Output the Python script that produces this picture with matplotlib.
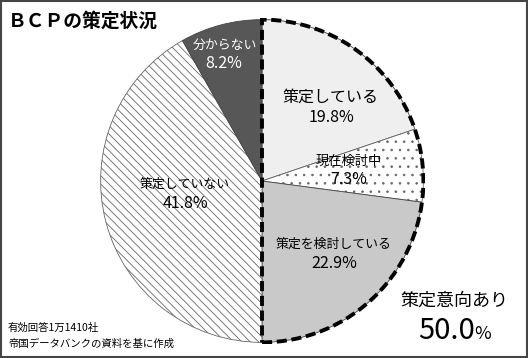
import matplotlib.pyplot as plt
from matplotlib.patches import Wedge, Rectangle

plt.rcParams['font.family'] = ['Noto Sans CJK JP', 'DejaVu Sans']
plt.rcParams['hatch.linewidth'] = 0.6

# data
labels = ["策定している", "現在検討中", "策定を検討している", "策定していない", "分からない"]
shares = [19.8, 7.3, 22.9, 41.8, 8.2]
intent_total = 50.0
colors = ["#efefef", "#ffffff", "#c9c9c9", "#ffffff", "#575757"]
hatches = [None, "..", None, "\\\\\\\\", None]

W, H = 528, 358
fig = plt.figure(figsize=(W / 100, H / 100), dpi=100)

# pie axes, center ~ (262,181) px, radius ~163 px
cx, cy, r = 262, 181, 163
ax = fig.add_axes([(cx - r) / W, (H - cy - r) / H, 2 * r / W, 2 * r / H])
wedges, _ = ax.pie(shares, colors=colors, startangle=90, counterclock=False,
                   radius=1, wedgeprops=dict(edgecolor="#444444", linewidth=0.6))
for w, h in zip(wedges, hatches):
    if h:
        w.set_hatch(h)
        w.set_edgecolor("#666666")
ax.set_xlim(-1.01, 1.01)
ax.set_ylim(-1.01, 1.01)
ax.set_aspect("equal")
ax.axis("off")

# dashed outline around the "策定意向あり" group
group_deg = sum(shares[:3]) / sum(shares) * 360
outline = Wedge((0, 0), 1, 90 - group_deg, 90, fill=False, edgecolor="black",
                linewidth=2.8, linestyle=(0, (2.6, 1.2)), zorder=5)
ax.add_patch(outline)


def px(x, y):
    return x / W, 1 - y / H


def fmt(v):
    return f"{v:.1f}%"


# slice labels
fig.text(*px(330, 97), labels[0], ha="center", va="center", fontsize=11.5)
fig.text(*px(331, 117), fmt(shares[0]), ha="center", va="center", fontsize=11.5)
fig.text(*px(349, 161), labels[1], ha="center", va="center", fontsize=9.5)
fig.text(*px(349, 180), fmt(shares[1]), ha="center", va="center", fontsize=11.5)
fig.text(*px(334, 244), labels[2], ha="center", va="center", fontsize=9.3)
fig.text(*px(334, 263), fmt(shares[2]), ha="center", va="center", fontsize=11.5)
fig.text(*px(185, 184), labels[3], ha="center", va="center", fontsize=9.3)
fig.text(*px(185, 203), fmt(shares[3]), ha="center", va="center", fontsize=11.5)
fig.text(*px(225, 45), labels[4], ha="center", va="center", fontsize=9.3, color="white")
fig.text(*px(224, 63), fmt(shares[4]), ha="center", va="center", fontsize=11.5, color="white")

# group total
fig.text(*px(454, 301), "策定意向あり", ha="center", va="center", fontsize=13)
fig.text(*px(447, 331), f"{intent_total:.1f}", ha="center", va="center", fontsize=21)
fig.text(*px(483, 334), "%", ha="center", va="center", fontsize=13)

# title and notes
fig.text(*px(8, 21), "ＢＣＰの策定状況", ha="left", va="center", fontsize=13.5, fontweight="bold")
fig.text(*px(8, 328), "有効回答1万1410社", ha="left", va="center", fontsize=7.5)
fig.text(*px(8, 344), "帝国データバンクの資料を基に作成", ha="left", va="center", fontsize=7.5)

# frame
fig.patches.append(Rectangle((0.002, 0.003), 0.996, 0.994, transform=fig.transFigure,
                             fill=False, edgecolor="#444444", linewidth=1.5))

fig.savefig("out.png", dpi=100)
